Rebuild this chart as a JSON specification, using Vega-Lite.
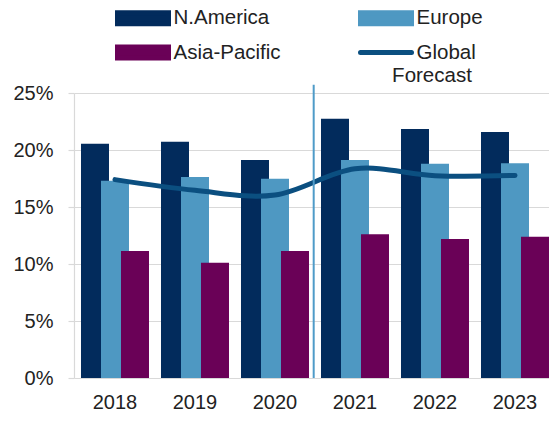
{
  "$schema": "https://vega.github.io/schema/vega-lite/v6.json",
  "width": 475,
  "height": 285,
  "autosize": {"type": "none"},
  "padding": {"left": 74, "top": 93, "right": 0, "bottom": 43},
  "background": "white",
  "config": {
    "view": {"stroke": null},
    "font": "Liberation Sans",
    "axis": {"labelFont": "Liberation Sans", "labelFontSize": 20, "labelColor": "#222222", "title": null}
  },
  "datasets": {
    "bars": [
      {"year": "2018", "series": "N.America", "value": 0.2055},
      {"year": "2018", "series": "Europe", "value": 0.173},
      {"year": "2018", "series": "Asia-Pacific", "value": 0.1114},
      {"year": "2019", "series": "N.America", "value": 0.2073},
      {"year": "2019", "series": "Europe", "value": 0.1763},
      {"year": "2019", "series": "Asia-Pacific", "value": 0.1011},
      {"year": "2020", "series": "N.America", "value": 0.1912},
      {"year": "2020", "series": "Europe", "value": 0.1748},
      {"year": "2020", "series": "Asia-Pacific", "value": 0.1114},
      {"year": "2021", "series": "N.America", "value": 0.2275},
      {"year": "2021", "series": "Europe", "value": 0.1912},
      {"year": "2021", "series": "Asia-Pacific", "value": 0.126},
      {"year": "2022", "series": "N.America", "value": 0.2184},
      {"year": "2022", "series": "Europe", "value": 0.188},
      {"year": "2022", "series": "Asia-Pacific", "value": 0.122},
      {"year": "2023", "series": "N.America", "value": 0.2158},
      {"year": "2023", "series": "Europe", "value": 0.1883},
      {"year": "2023", "series": "Asia-Pacific", "value": 0.124}
    ],
    "line": [
      {"year": "2018", "series": "Global", "value": 0.174},
      {"year": "2019", "series": "Global", "value": 0.1646},
      {"year": "2020", "series": "Global", "value": 0.1605},
      {"year": "2021", "series": "Global", "value": 0.1835},
      {"year": "2022", "series": "Global", "value": 0.1775},
      {"year": "2023", "series": "Global", "value": 0.1777}
    ],
    "divider": [
      {"year": "2020", "y": 0, "y2": 0.2573}
    ],
    "note": [
      {"year": "2022", "y": 0.2593, "label": "Forecast"}
    ]
  },
  "layer": [
    {
      "data": {"name": "bars"},
      "mark": {"type": "bar", "width": 28},
      "encoding": {
        "x": {
          "field": "year", "type": "ordinal",
          "scale": {"paddingInner": 0.25, "paddingOuter": 0.09375, "align": 0.733},
          "axis": {"domain": false, "ticks": false, "labelAngle": 0, "labelPadding": 14, "grid": false}
        },
        "xOffset": {
          "field": "series", "type": "nominal",
          "scale": {"domain": ["N.America", "Europe", "Asia-Pacific"], "paddingInner": 0, "paddingOuter": 0}
        },
        "y": {
          "field": "value", "type": "quantitative", "stack": null,
          "scale": {"domain": [0, 0.25], "nice": false},
          "axis": {
            "values": [0, 0.05, 0.1, 0.15, 0.2, 0.25], "format": ".0%",
            "grid": true, "gridColor": "#d9d9d9", "gridWidth": 1.2,
            "domain": true, "domainColor": "#d9d9d9", "domainWidth": 1.2,
            "ticks": true, "tickSize": 6, "tickColor": "#d9d9d9", "tickWidth": 1.2,
            "labelPadding": 15
          }
        },
        "color": {
          "field": "series", "type": "nominal",
          "scale": {
            "domain": ["N.America", "Asia-Pacific", "Europe", "Global"],
            "range": ["#022b5c", "#6a0157", "#4e98c2", "#0b4f80"]
          },
          "legend": {
            "title": null, "orient": "none", "legendX": 41, "legendY": -85,
            "columns": 2, "columnPadding": 77, "rowPadding": 13.5, "clipHeight": 20,
            "padding": 0, "labelFontSize": 20.5, "labelFont": "Liberation Sans", "labelColor": "#222222",
            "labelOffset": 2.5, "symbolSize": 2601, "symbolStrokeWidth": 5,
            "symbolType": "M-1,-0.216H1V0.216H-1Z",
            "symbolOpacity": 1,
            "encode": {
              "symbols": {
                "update": {
                  "shape": {"signal": "datum.value === 'Global' ? 'stroke' : 'M-1,-0.216H1V0.216H-1Z'"},
                  "fill": {"signal": "datum.value === 'Global' ? 'transparent' : scale('color', datum.value)"},
                  "stroke": {"signal": "datum.value === 'Global' ? '#0b4f80' : 'transparent'"},
                  "strokeCap": {"value": "round"},
                  "opacity": {"value": 1}
                }
              }
            }
          }
        }
      }
    },
    {
      "data": {"name": "line"},
      "mark": {"type": "line", "interpolate": "cardinal", "strokeWidth": 5, "strokeCap": "round"},
      "encoding": {
        "x": {"field": "year", "type": "ordinal"},
        "y": {"field": "value", "type": "quantitative"},
        "color": {"field": "series", "type": "nominal"}
      }
    },
    {
      "data": {"name": "divider"},
      "mark": {"type": "rule", "color": "#4f9bc8", "strokeWidth": 2},
      "encoding": {
        "x": {"field": "year", "type": "ordinal", "bandPosition": 1.145},
        "y": {"field": "y", "type": "quantitative"},
        "y2": {"field": "y2"}
      }
    },
    {
      "data": {"name": "note"},
      "mark": {"type": "text", "fontSize": 20.5, "font": "Liberation Sans", "color": "#222222", "align": "center", "baseline": "alphabetic", "dx": -3},
      "encoding": {
        "x": {"field": "year", "type": "ordinal"},
        "y": {"field": "y", "type": "quantitative"},
        "text": {"field": "label"}
      }
    }
  ]
}
